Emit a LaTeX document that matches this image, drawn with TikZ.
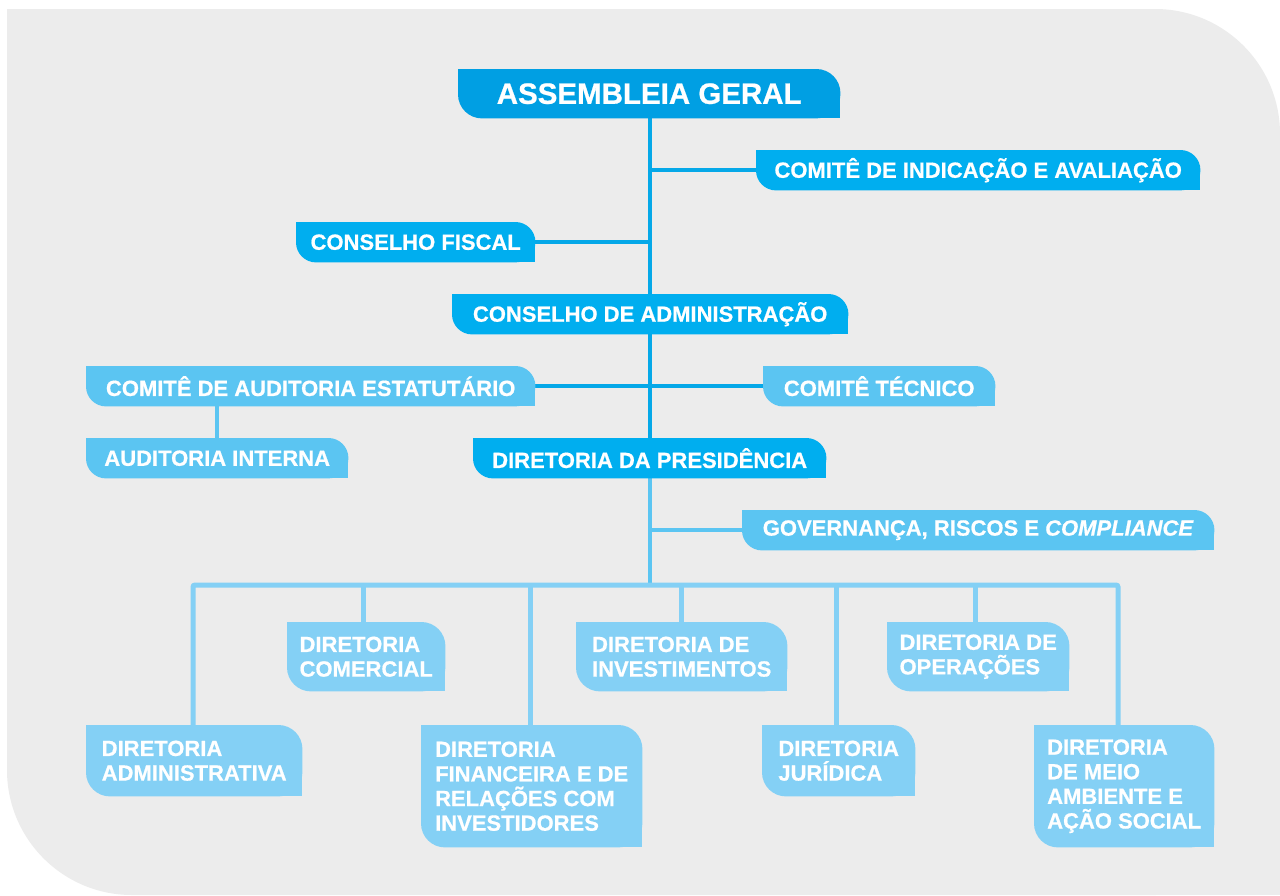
\documentclass[tikz,border=0pt]{standalone}
\usepackage{fontspec}
\setmainfont{Liberation Sans}[BoldFeatures={FakeBold=0.7},BoldItalicFeatures={FakeBold=0.7}]
\usetikzlibrary{calc}
\definecolor{bggray}{HTML}{ECECEC}
\definecolor{cA}{HTML}{009FE3}
\definecolor{cB}{HTML}{00AEEF}
\definecolor{cC}{HTML}{5BC5F2}
\definecolor{cD}{HTML}{84D0F5}
\definecolor{lineA}{HTML}{05A8E8}
\pgfdeclarelayer{back}
\pgfdeclarelayer{lines}
\pgfdeclarelayer{boxes}
\pgfsetlayers{back,lines,boxes,main}
\newcommand\boxfill[3]{%
  \begin{pgfonlayer}{boxes}
    \fill[#2, rounded corners=#3pt] (#1.north west) rectangle (#1.south east);
    \fill[#2] (#1.north west) rectangle ++(#3,#3);
    \fill[#2] (#1.south east) rectangle ++(-#3,-#3);
  \end{pgfonlayer}}
\tikzset{
  bx/.style={anchor=north west, inner sep=0pt, text=white, align=left,
    font=\bfseries\fontsize{22}{24.6}\selectfont},
  upline/.style={draw=lineA, line width=4.5pt},
  midline/.style={draw=cC, line width=4.5pt},
  lowline/.style={draw=cD, line width=5pt},
}
\begin{document}
\begin{tikzpicture}[x=1pt, y=-1pt]
\useasboundingbox (0,0) rectangle (1280,895);
\begin{pgfonlayer}{back}
  \fill[white] (0,0) rectangle (1280,895);
  \fill[bggray, rounded corners=125pt] (7,9) rectangle (1280,895);
  \fill[bggray] (7,9) rectangle (200,200);
  \fill[bggray] (1080,700) rectangle (1280,895);
\end{pgfonlayer}

\node[bx, minimum width=382pt, minimum height=49pt, font=\bfseries\fontsize{29.5}{32}\selectfont] (ag) at (458,69) {ASSEMBLEIA GERAL};
\node[bx, minimum width=444pt, minimum height=40pt] (cia) at (756,150) {COMITÊ DE INDICAÇÃO E AVALIAÇÃO};
\node[bx, minimum width=239pt, minimum height=40pt] (cf) at (296,222) {CONSELHO FISCAL};
\node[bx, minimum width=396pt, minimum height=40pt] (cda) at (452,294) {CONSELHO DE ADMINISTRAÇÃO};
\node[bx, minimum width=449pt, minimum height=40pt] (cae) at (86,366) {COMITÊ DE AUDITORIA ESTATUTÁRIO};
\node[bx, minimum width=232pt, minimum height=40pt] (ct) at (763,366) {COMITÊ TÉCNICO};
\node[bx, minimum width=262pt, minimum height=40pt] (ai) at (86,438) {AUDITORIA INTERNA};
\node[bx, minimum width=353pt, minimum height=40pt] (dp) at (473,438) {DIRETORIA DA PRESIDÊNCIA};
\node[bx, minimum width=472pt, minimum height=40pt] (gov) at (742,510) {GOVERNANÇA, RISCOS E \textit{COMPLIANCE}};
\node[bx, minimum width=158pt, minimum height=69pt] (dcom) at (287,622) {DIRETORIA\\COMERCIAL};
\node[bx, minimum width=211pt, minimum height=69pt] (dinv) at (576,622) {DIRETORIA DE\\INVESTIMENTOS};
\node[bx, minimum width=182pt, minimum height=69pt] (dop) at (887,622) {DIRETORIA DE\\OPERAÇÕES};
\node[bx, minimum width=216pt, minimum height=71pt] (dadm) at (86,725) {DIRETORIA\\ADMINISTRATIVA};
\node[bx, minimum width=221pt, minimum height=122pt] (dfin) at (421,725) {DIRETORIA\\FINANCEIRA E DE\\RELAÇÕES COM\\INVESTIDORES};
\node[bx, minimum width=153pt, minimum height=71pt] (djur) at (762,725) {DIRETORIA\\JURÍDICA};
\node[bx, minimum width=180pt, minimum height=122pt] (dma) at (1034,725) {DIRETORIA\\DE MEIO\\AMBIENTE E\\AÇÃO SOCIAL};

\boxfill{ag}{cA}{24}
\boxfill{cia}{cB}{20}
\boxfill{cf}{cB}{20}
\boxfill{cda}{cB}{20}
\boxfill{cae}{cC}{20}
\boxfill{ct}{cC}{20}
\boxfill{ai}{cC}{20}
\boxfill{dp}{cB}{20}
\boxfill{gov}{cC}{20}
\boxfill{dcom}{cD}{24}
\boxfill{dinv}{cD}{24}
\boxfill{dop}{cD}{24}
\boxfill{dadm}{cD}{24}
\boxfill{dfin}{cD}{24}
\boxfill{djur}{cD}{24}
\boxfill{dma}{cD}{24}

\coordinate (spine) at (650,0);
\coordinate (b1) at (193,585);
\coordinate (b2) at (363,585);
\coordinate (b3) at (530,585);
\coordinate (b4) at (681,585);
\coordinate (b5) at (836,585);
\coordinate (b6) at (975,585);
\coordinate (b7) at (1118,585);
\coordinate (bc) at (650,585);

\begin{pgfonlayer}{lines}
  \draw[upline] (spine |- ag.south) -- (spine |- dp.north);
  \draw[upline] (spine |- cia.west) -- (cia.west);
  \draw[upline] (cf.east) -- (spine |- cf.east);
  \draw[upline] (cae.east) -- (ct.west);
  \draw[midline] (ai.north) -- (ai.north |- cae.south);
  \draw[midline] (spine |- dp.south) -- (bc);
  \draw[midline] (spine |- gov.west) -- (gov.west);
  \draw[lowline, rounded corners=2pt] (b1 |- dadm.north) -- (b1) -- (b7) -- (b7 |- dma.north);
  \draw[lowline] (b2) -- (b2 |- dcom.north);
  \draw[lowline] (b3) -- (b3 |- dfin.north);
  \draw[lowline] (b4) -- (b4 |- dinv.north);
  \draw[lowline] (b5) -- (b5 |- djur.north);
  \draw[lowline] (b6) -- (b6 |- dop.north);
\end{pgfonlayer}
\end{tikzpicture}
\end{document}
